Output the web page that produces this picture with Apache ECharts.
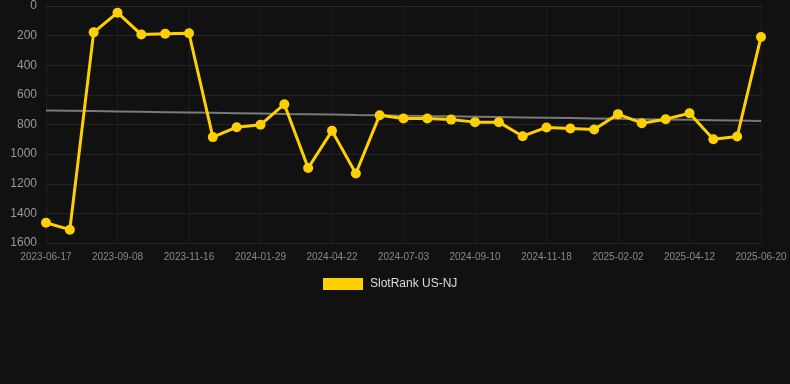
<!DOCTYPE html>
<html>
<head>
<meta charset="utf-8">
<script src="https://cdn.jsdelivr.net/npm/echarts@6/dist/echarts.min.js"></script>
<style>
html,body{margin:0;padding:0;background:#111111;}
#chart{width:790px;height:384px;}
</style>
</head>
<body>
<div id="chart"></div>
<script>
var categories = ["2023-06-17","2023-07-15","2023-08-12","2023-09-08","2023-10-01","2023-10-24","2023-11-16","2023-12-12","2024-01-06","2024-01-29","2024-02-28","2024-03-26","2024-04-22","2024-05-17","2024-06-09","2024-07-03","2024-07-26","2024-08-18","2024-09-10","2024-10-04","2024-10-26","2024-11-18","2024-12-14","2025-01-08","2025-02-02","2025-02-27","2025-03-20","2025-04-12","2025-05-05","2025-05-28","2025-06-20"];
var seriesName = "SlotRank US-NJ";
var rankValues = [1463,1510,178,45,193,187,184,885,818,802,663,1094,843,1131,737,760,760,767,784,784,879,820,827,834,730,791,764,724,899,881,209];
var yTicks = [0,200,400,600,800,1000,1200,1400,1600];

// linear regression trend over the series
var n = rankValues.length, sx=0, sy=0, sxy=0, sxx=0;
for (var i=0;i<n;i++){sx+=i;sy+=rankValues[i];sxy+=i*rankValues[i];sxx+=i*i;}
var slope=(n*sxy-sx*sy)/(n*sxx-sx*sx);
var icpt=(sy-slope*sx)/n;
var trend = rankValues.map(function(v,i){return +(icpt+slope*i).toFixed(1);});

var chart = echarts.init(document.getElementById('chart'));
chart.setOption({
  backgroundColor:'#111111',
  animation:false,
  grid:{left:46,right:29,top:6,bottom:141,containLabel:false},
  legend:{
    data:[seriesName],
    top:278,
    left:323,
    padding:0,
    itemWidth:40,itemHeight:12,
    itemGap:10,
    textStyle:{color:'#dddddd',fontSize:12,padding:[0,0,0,2],fontFamily:'Arial, Liberation Sans, sans-serif'},
    icon:'rect'
  },
  xAxis:{
    type:'category',
    data:categories,
    boundaryGap:false,
    axisLine:{show:true,lineStyle:{color:'#2a2a2a'}},
    axisTick:{show:false},
    axisLabel:{interval:2,color:'#888888',fontSize:10,margin:9,fontFamily:'Arial, Liberation Sans, sans-serif'},
    splitLine:{show:true,interval:2,lineStyle:{color:'#1e1e1e',width:1}}
  },
  yAxis:{
    type:'value',
    inverse:true,
    min:yTicks[0],max:yTicks[yTicks.length-1],interval:200,
    axisLine:{show:false},
    axisTick:{show:false},
    axisLabel:{color:'#999999',fontSize:12,margin:9,fontFamily:'Arial, Liberation Sans, sans-serif',
      formatter:function(v){return String(v);}},
    splitLine:{show:true,lineStyle:{color:'#222222',width:1}}
  },
  series:[
    {
      name:seriesName,
      type:'line',
      data:rankValues,
      symbol:'circle',
      symbolSize:10,
      itemStyle:{color:'#FFD000'},
      lineStyle:{color:'#FFD000',width:3},
      z:3
    },
    {
      name:'trend',
      type:'line',
      data:trend,
      symbol:'none',
      lineStyle:{color:'#7a7a7a',width:2},
      itemStyle:{color:'#7a7a7a'},
      z:2,
      silent:true
    }
  ]
});
</script>
</body>
</html>
